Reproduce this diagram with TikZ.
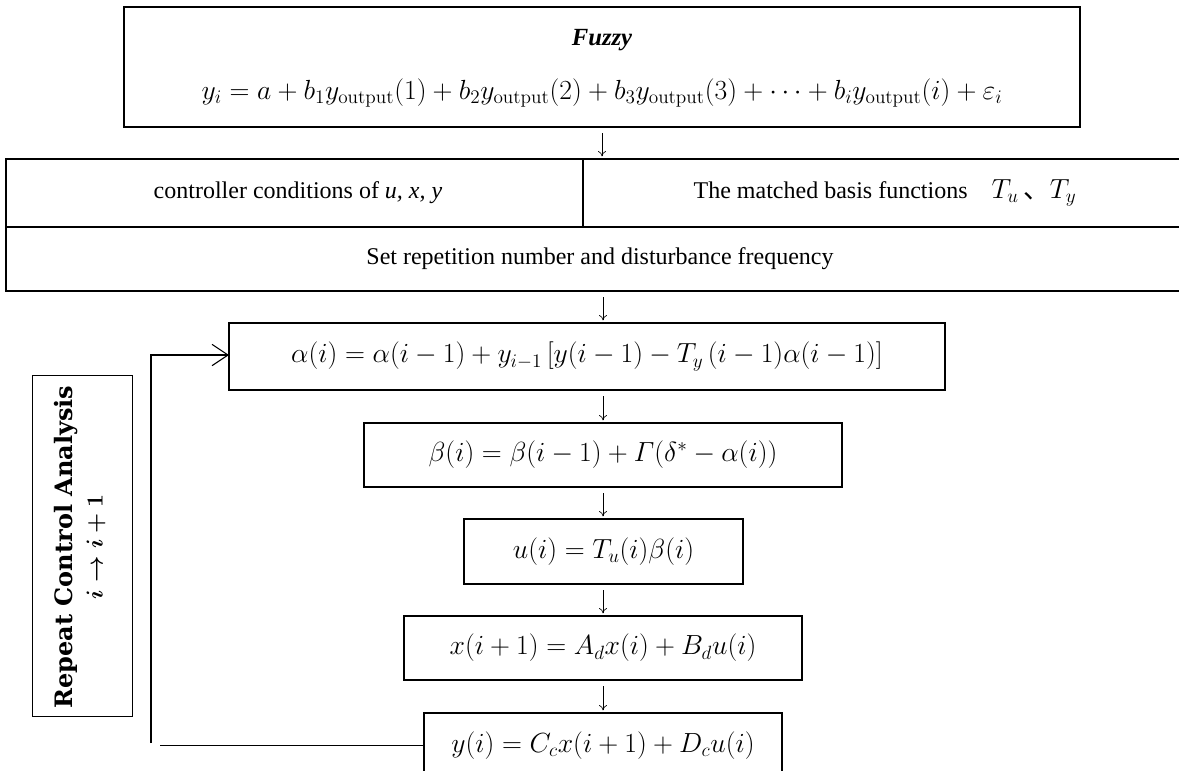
\documentclass[tikz,border=0pt]{standalone}
\usepackage{amsmath}
\usepackage[no-math]{fontspec}
\setmainfont{Liberation Serif}
\newfontfamily\cjk{Noto Sans CJK SC}
\newfontfamily\slabfont{DejaVu Serif}
\usetikzlibrary{arrows.meta}
\begin{document}
\begin{tikzpicture}[x=0.75pt,y=-0.75pt,
  every node/.style={inner sep=0pt, outer sep=0pt},
  topbox/.style={draw, line width=1.2pt, rectangle},
  cell/.style={draw, line width=1.2pt, rectangle},
  eqbox/.style={draw, line width=1pt, rectangle, font=\fontsize{20}{23}\selectfont},
  eqtxt/.style={font=\fontsize{20.6}{23}\selectfont},
  txt/.style={font=\fontsize{18}{21}\selectfont},
  flow/.style={-{To[length=4pt,width=6pt]}, line width=0.5pt, shorten <=4.5pt, shorten >=2pt},
  fb/.style={line width=0.8pt}]
\useasboundingbox (0,0) rectangle (1179,771);
\clip (0,0) rectangle (1179,771);

% top box
\node[topbox, minimum width=717pt, minimum height=90pt] (top) at (602,67) {};
\node[font=\fontsize{18.5}{21}\selectfont\bfseries\itshape] (fuzzy) at (602,40) {Fuzzy};
\node[eqtxt] (topeq) at (602,93) {$y_i = a + b_1 y_{\mathrm{output}}(1) + b_2 y_{\mathrm{output}}(2) + b_3 y_{\mathrm{output}}(3) + \cdots + b_i y_{\mathrm{output}}(i) + \varepsilon_i$};

% table
\node[cell, minimum width=432.75pt, minimum height=51pt] (c1) at (294.5,193) {};
\node[txt] (c1t) at (298,193) {controller conditions of \textit{u, x, y}};
\node[cell, minimum width=451.5pt, minimum height=51pt] (c2) at (884,193) {};
\node[txt] (c2t) at (885,193) {The matched basis functions\quad {\fontsize{20}{23}\selectfont$T_u$\,{\cjk 、}$T_y$}};
\node[cell, minimum width=884.25pt, minimum height=48pt] (c3) at (595.5,259) {};
\node[txt] (c3t) at (600,259) {Set repetition number and disturbance frequency};

% flow boxes
\node[eqbox, minimum width=537pt, minimum height=50.25pt] (alpha) at (587,356.5)
  {$\alpha(i) = \alpha(i-1) + y_{i-1}\,[y(i-1) - T_y\,(i-1)\alpha(i-1)]$};
\node[eqbox, minimum width=358.5pt, minimum height=48pt] (beta) at (603,455)
  {$\beta(i) = \beta(i-1) + \varGamma(\delta^{*} - \alpha(i))$};
\node[eqbox, minimum width=209.25pt, minimum height=48.75pt] (ubox) at (603.5,551.5)
  {$u(i) = T_u(i)\beta(i)$};
\node[eqbox, minimum width=298.5pt, minimum height=48pt] (xbox) at (603,648)
  {$x(i+1) = A_d x(i) + B_d u(i)$};
\node[eqbox, minimum width=268.5pt, minimum height=48.75pt] (ybox) at (603,745.5)
  {$y(i) = C_c x(i+1) + D_c u(i)$};

% repeat label
\node[draw, line width=0.6pt, minimum width=75pt, minimum height=255.75pt] (rep) at (82,545.5) {};
\node[rotate=90, align=center, font=\fontsize{18}{22.5}\slabfont\bfseries\boldmath] (rept) at (80,547)
  {Repeat Control Analysis\\$i \to i+1$};

% connectors
\draw[flow] (top.south) -- (top.south |- c2.north);
\draw[flow] (c3.south -| beta.north) -- (alpha.north -| beta.north);
\draw[flow] (alpha.south -| beta.north) -- (beta.north);
\draw[flow] (beta.south) -- (ubox.north -| beta.south);
\draw[flow] (ubox.south -| beta.south) -- (xbox.north -| beta.south);
\draw[flow] (xbox.south -| beta.south) -- (ybox.north -| beta.south);

% feedback
\coordinate (fbA) at (160,744);
\coordinate (fbB) at (151,743);
\coordinate (fbC) at (151,355);
\draw[fb] (ybox.west) -- (ybox.west -| fbA);
\draw[fb, -{Straight Barb[length=12pt,width=16pt,line width=0.8pt]}] (fbB) -- (fbC) -- (alpha.west |- fbC);
\end{tikzpicture}
\end{document}
